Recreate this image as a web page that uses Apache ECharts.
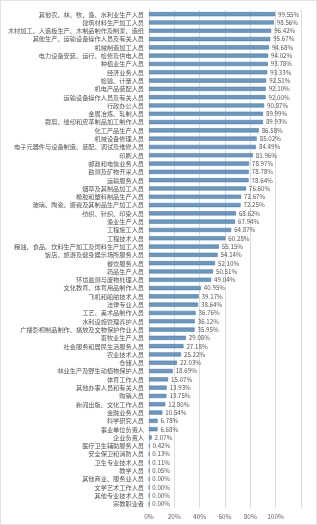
<!DOCTYPE html>
<html><head><meta charset="utf-8">
<script src="https://cdn.jsdelivr.net/npm/echarts@6/dist/echarts.min.js"></script>
<style>html,body{margin:0;padding:0;background:#fff}#c{width:317px;height:525px;box-sizing:border-box;border:1px solid #e3e3e3}</style>
</head><body><div id="c"></div>
<script>
var categories = [
"其他农、林、牧、渔、水利业生产人员","建筑材料生产加工人员","木材加工、人造板生产、木制品制作及制浆、造纸","其他生产、运输设备操作人员及有关人员","机械制造加工人员",
"电力设备安装、运行、检修及供电人员","种植业生产人员","经济业务人员","检验、计量人员","机电产品装配人员",
"运输设备操作人员及有关人员","行政办公人员","金属冶炼、轧制人员","裁剪、缝纫和皮革制品加工制作人员","化工产品生产人员",
"机械设备修理人员","电子元器件与设备制造、装配、调试及维修人员","印刷人员","邮政和电信业务人员","勘测及矿物开采人员",
"运输服务人员","烟草及其制品加工人员","橡胶和塑料制品生产人员","玻璃、陶瓷、搪瓷及其制品生产加工人员","纺织、针织、印染人员",
"渔业生产人员","工程施工人员","工程技术人员","粮油、食品、饮料生产加工及饲料生产加工人员","饭店、旅游及健身娱乐场所服务人员",
"餐饮服务人员","药品生产人员","环境监测与废物处理人员","文化教育、体育用品制作人员","飞机和船舶技术人员",
"法律专业人员","工艺、美术品制作人员","水利设施管理养护人员","广播影视制品制作、播放及文物保护作业人员","畜牧业生产人员",
"社会服务和居民生活服务人员","农业技术人员","仓储人员","林业生产及野生动植物保护人员","体育工作人员",
"其他办事人员和有关人员","购销人员","新闻出版、文化工作人员","金融业务人员","科学研究人员",
"事业单位负责人","企业负责人","医疗卫生辅助服务人员","安全保卫和消防人员","卫生专业技术人员",
"教学人员","其他商业、服务业人员","文学艺术工作人员","其他专业技术人员","宗教职业者"
];
var values = [
99.55,98.56,96.42,95.67,94.68,
94.02,93.78,93.33,92.51,92.10,
92.00,90.87,89.99,89.93,86.58,
85.02,84.49,81.96,78.97,78.78,
78.64,76.60,72.67,72.25,68.62,
67.94,64.87,60.28,55.15,54.14,
52.10,50.51,49.04,40.95,39.17,
38.64,36.76,36.12,35.95,29.08,
27.18,25.22,22.03,18.69,15.07,
13.93,13.75,12.80,10.54,6.78,
6.68,2.07,0.42,0.13,0.11,
0.05,0.00,0.00,0.00,0.00
];
var axisTicks = [0,20,40,60,80,100,120];
var ch = echarts.init(document.getElementById('c'));
ch.setOption({
  animation:false,
  grid:{left:148,right:15,top:9,bottom:16,containLabel:false},
  xAxis:{type:'value',min:axisTicks[0],max:axisTicks[axisTicks.length-1],interval:20,
    axisLine:{show:false},axisTick:{show:false},
    splitLine:{lineStyle:{color:'#dcdcdc',width:1}},
    axisLabel:{fontSize:6.5,color:'#666',margin:5,fontFamily:'"Noto Sans CJK SC",sans-serif',
      formatter:function(v){return v===120?'':v+'%';}}},
  yAxis:{type:'category',data:categories,inverse:true,
    axisLine:{lineStyle:{color:'#d0d0d0'}},axisTick:{show:false},
    axisLabel:{fontSize:6.2,color:'#555',margin:5,interval:0,fontFamily:'"Noto Sans CJK SC",sans-serif'}},
  series:[{type:'bar',data:values,barWidth:'50%',
    itemStyle:{color:'#6a9ac4',borderColor:'#41719c',borderWidth:0.5},
    label:{show:true,position:'right',distance:3,fontSize:6.2,color:'#555',fontFamily:'"Noto Sans CJK SC",sans-serif',
      formatter:function(p){return p.value.toFixed(2)+'%';}}}]
});
</script></body></html>
